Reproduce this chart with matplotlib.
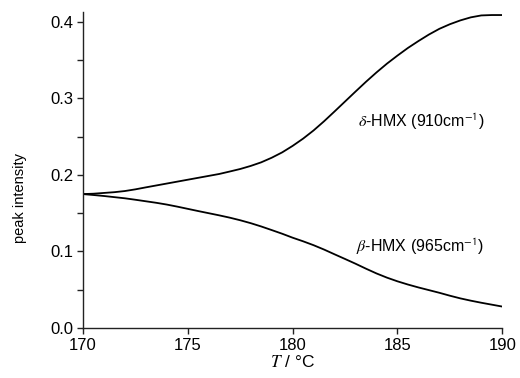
import matplotlib
matplotlib.use("Agg")
import matplotlib.pyplot as plt
from matplotlib.ticker import MultipleLocator

T = [170, 170.5, 171, 171.5, 172, 172.5, 173, 173.5, 174, 174.5, 175, 175.5,
     176, 176.5, 177, 177.5, 178, 178.5, 179, 179.5, 180, 180.5, 181, 181.5,
     182, 182.5, 183, 183.5, 184, 184.5, 185, 185.5, 186, 186.5, 187, 187.5,
     188, 188.5, 189, 189.5, 190]
delta_hmx = [0.175, 0.1755, 0.1765, 0.1775, 0.179, 0.1812, 0.1838, 0.1863, 0.1888, 0.1913,
             0.1938, 0.1963, 0.1988, 0.2013, 0.2045, 0.2078, 0.2118, 0.2165, 0.2225, 0.2295,
             0.238, 0.2475, 0.2582, 0.2702, 0.283, 0.296, 0.309, 0.3218, 0.334, 0.3455,
             0.356, 0.366, 0.375, 0.3835, 0.391, 0.397, 0.402, 0.406, 0.4085, 0.409, 0.409]
beta_hmx = [0.175, 0.1738, 0.1725, 0.171, 0.1695, 0.1676, 0.1656, 0.1636, 0.1613, 0.1586,
            0.1557, 0.1528, 0.150, 0.1472, 0.1442, 0.1408, 0.137, 0.1327, 0.128, 0.1232,
            0.118, 0.1133, 0.1082, 0.1025, 0.0963, 0.0902, 0.084, 0.0775, 0.0713, 0.0658,
            0.061, 0.0568, 0.053, 0.0495, 0.046, 0.0422, 0.0387, 0.0357, 0.033, 0.0305, 0.028]
x_ticks = [170, 175, 180, 185, 190]
y_ticks = [0.0, 0.1, 0.2, 0.3, 0.4]

plt.rcParams['font.family'] = ['Liberation Sans', 'DejaVu Sans']
plt.rcParams['mathtext.fontset'] = 'stix'

fig = plt.figure(figsize=(5.2, 3.78), dpi=100)
ax = fig.add_axes([0.1596, 0.1323, 0.8063, 0.836])

ax.plot(T, delta_hmx, color='black', lw=1.3)
ax.plot(T, beta_hmx, color='black', lw=1.3)

ax.set_xlim(170, 190)
ax.set_ylim(0, 0.413)
ax.set_xticks(x_ticks)
ax.set_xticklabels([str(v) for v in x_ticks])
ax.set_yticks(y_ticks)
ax.set_yticklabels([f"{v:.1f}" for v in y_ticks])
ax.yaxis.set_minor_locator(MultipleLocator(0.05))

for s in ['top', 'right']:
    ax.spines[s].set_visible(False)
for s in ['left', 'bottom']:
    ax.spines[s].set_color('#222222')
    ax.spines[s].set_linewidth(1.0)

ax.tick_params(axis='both', which='major', direction='out', length=4, width=1.0,
               color='#222222', labelsize=12, pad=3)
ax.tick_params(axis='y', which='minor', direction='out', length=4, width=1.0, color='#222222')

ax.set_ylabel('peak intensity', fontsize=10.5)
ax.yaxis.set_label_coords(-0.133, 0.41)
ax.set_xlabel(r'$T$' + ' / \u00b0C', fontsize=12.5, labelpad=1)

ax.text(183.1, 0.270, r'$\delta$' + '-HMX (910cm' + r'$^{\mathsf{-1}}$' + ')',
        fontsize=11.5, ha='left', va='center')
ax.text(183.0, 0.106, r'$\beta$' + '-HMX (965cm' + r'$^{\mathsf{-1}}$' + ')',
        fontsize=11.5, ha='left', va='center')

fig.savefig('out.png', dpi=100)
